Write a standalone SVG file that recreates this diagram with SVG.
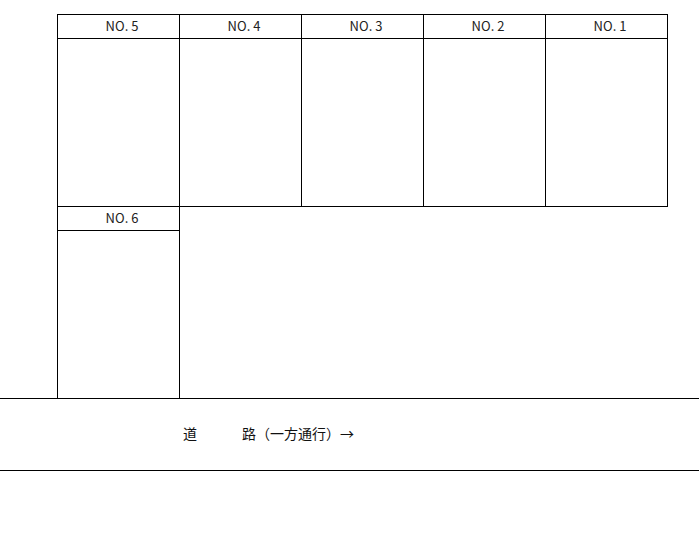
<svg xmlns="http://www.w3.org/2000/svg" width="699" height="544" viewBox="0 0 699 544">
<style>
.b{fill:none;stroke:#000;stroke-width:1}
.t{font-family:"Noto Sans CJK JP","Noto Sans",sans-serif;font-size:13px;fill:#222;text-anchor:middle}
.r{font-family:"Noto Sans CJK JP",sans-serif;font-size:14px;fill:#111}
</style>
<rect width="699" height="544" fill="#fff"/>
<g id="no5"><rect class="b" x="57.5" y="14.5" width="122" height="192"/><line class="b" x1="57.5" y1="38.5" x2="179.5" y2="38.5"/><text class="t" x="122" y="31">NO. 5</text></g>
<g id="no4"><rect class="b" x="179.5" y="14.5" width="122" height="192"/><line class="b" x1="179.5" y1="38.5" x2="301.5" y2="38.5"/><text class="t" x="244" y="31">NO. 4</text></g>
<g id="no3"><rect class="b" x="301.5" y="14.5" width="122" height="192"/><line class="b" x1="301.5" y1="38.5" x2="423.5" y2="38.5"/><text class="t" x="366" y="31">NO. 3</text></g>
<g id="no2"><rect class="b" x="423.5" y="14.5" width="122" height="192"/><line class="b" x1="423.5" y1="38.5" x2="545.5" y2="38.5"/><text class="t" x="488" y="31">NO. 2</text></g>
<g id="no1"><rect class="b" x="545.5" y="14.5" width="122" height="192"/><line class="b" x1="545.5" y1="38.5" x2="667.5" y2="38.5"/><text class="t" x="610" y="31">NO. 1</text></g>
<g id="no6"><rect class="b" x="57.5" y="206.5" width="122" height="192"/><line class="b" x1="57.5" y1="230.5" x2="179.5" y2="230.5"/><text class="t" x="122" y="223">NO. 6</text></g>
<g id="road"><line class="b" x1="0" y1="398.5" x2="699" y2="398.5"/><line class="b" x1="0" y1="470.5" x2="699" y2="470.5"/>
<text class="r" x="183" y="439">道</text><text class="r" x="242" y="439">路（一方通行）→</text></g>
</svg>
